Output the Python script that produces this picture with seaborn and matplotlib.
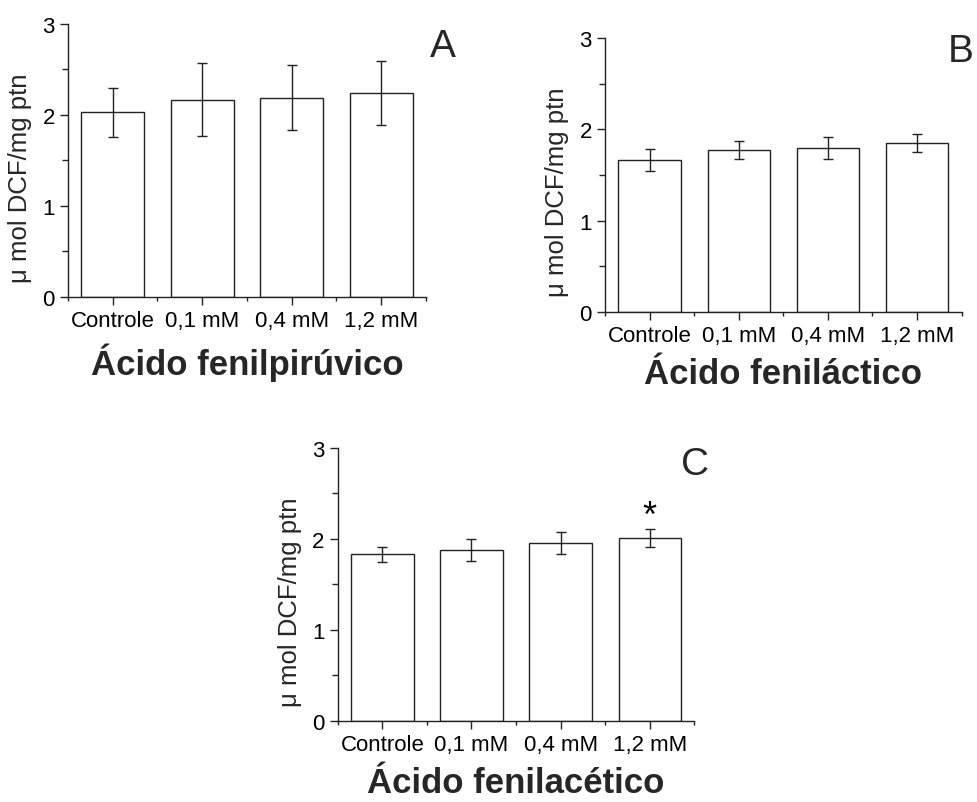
import pandas as pd
import matplotlib.pyplot as plt
import seaborn as sns
from matplotlib.ticker import MultipleLocator, FixedLocator

# Dados (média ± erro)
categorias = ["Controle", "0,1 mM", "0,4 mM", "1,2 mM"]

media_a = [2.03, 2.17, 2.19, 2.24]
erro_a = [0.27, 0.40, 0.36, 0.35]

media_b = [1.66, 1.77, 1.80, 1.85]
erro_b = [0.12, 0.10, 0.12, 0.10]

media_c = [1.83, 1.88, 1.96, 2.01]
erro_c = [0.08, 0.12, 0.12, 0.10]
signif_c = [False, False, False, True]

titulos = ["Ácido fenilpirúvico", "Ácido feniláctico", "Ácido fenilacético"]
letras = ["A", "B", "C"]
rotulo_y = "μ mol DCF/mg ptn"

sns.set_theme(style="ticks")
plt.rcParams["font.family"] = ["Liberation Sans", "DejaVu Sans"]

COR_LINHA = "#222222"


def desenhar_painel(ax, medias, erros, titulo, letra, pos_letra, signif=None):
    df = pd.DataFrame({"grupo": categorias, "valor": medias})
    sns.barplot(data=df, x="grupo", y="valor", color="white", saturation=1,
                edgecolor=COR_LINHA, linewidth=1.0, width=0.7,
                errorbar=None, ax=ax)

    # centros das barras a partir dos patches
    xs = [p.get_x() + p.get_width() / 2 for p in ax.patches]
    ax.errorbar(xs, medias, yerr=erros, fmt="none", ecolor=COR_LINHA,
                elinewidth=1.0, capsize=3.5, capthick=1.0)

    if signif is not None:
        for x, m, e, s in zip(xs, medias, erros, signif):
            if s:
                ax.annotate("*", xy=(x, m + e), xytext=(0, 9),
                            textcoords="offset points", ha="center",
                            va="center", fontsize=26, color="black")

    ax.set_xlim(-0.5, len(categorias) - 0.5)
    ax.set_ylim(0, 3)
    ax.yaxis.set_major_locator(MultipleLocator(1))
    ax.yaxis.set_minor_locator(MultipleLocator(0.5))
    ax.xaxis.set_minor_locator(FixedLocator([i - 0.5 for i in range(len(categorias) + 1)]))

    ax.tick_params(axis="both", which="major", direction="out", length=6,
                   width=1.0, color=COR_LINHA, labelsize=16, labelcolor="black")
    ax.tick_params(axis="y", which="minor", direction="out", length=4,
                   width=1.0, color=COR_LINHA)
    ax.tick_params(axis="x", which="minor", direction="out", length=3,
                   width=1.0, color=COR_LINHA)

    sns.despine(ax=ax)
    for lado in ["left", "bottom"]:
        ax.spines[lado].set_color(COR_LINHA)
        ax.spines[lado].set_linewidth(1.0)

    ax.set_ylabel(rotulo_y, fontsize=18.5)
    ax.yaxis.set_label_coords(-0.10, 0.44)
    ax.set_xlabel(titulo, fontsize=25, fontweight="bold", labelpad=8)

    ax.text(pos_letra[0], pos_letra[1], letra, transform=ax.transAxes,
            fontsize=28, ha="center", va="center")


fig = plt.figure(figsize=(9.77, 8.03), dpi=100)
ax_a = fig.add_axes([0.0696, 0.6289, 0.3664, 0.3400])
ax_b = fig.add_axes([0.6192, 0.6106, 0.3651, 0.3405])
ax_c = fig.add_axes([0.3457, 0.1009, 0.3650, 0.3400])

desenhar_painel(ax_a, media_a, erro_a, titulos[0], letras[0], (1.047, 0.919))
desenhar_painel(ax_b, media_b, erro_b, titulos[1], letras[1], (0.998, 0.954))
desenhar_painel(ax_c, media_c, erro_c, titulos[2], letras[2], (1.002, 0.941), signif_c)

fig.savefig("out.png", dpi=100, facecolor="white")
plt.close(fig)
